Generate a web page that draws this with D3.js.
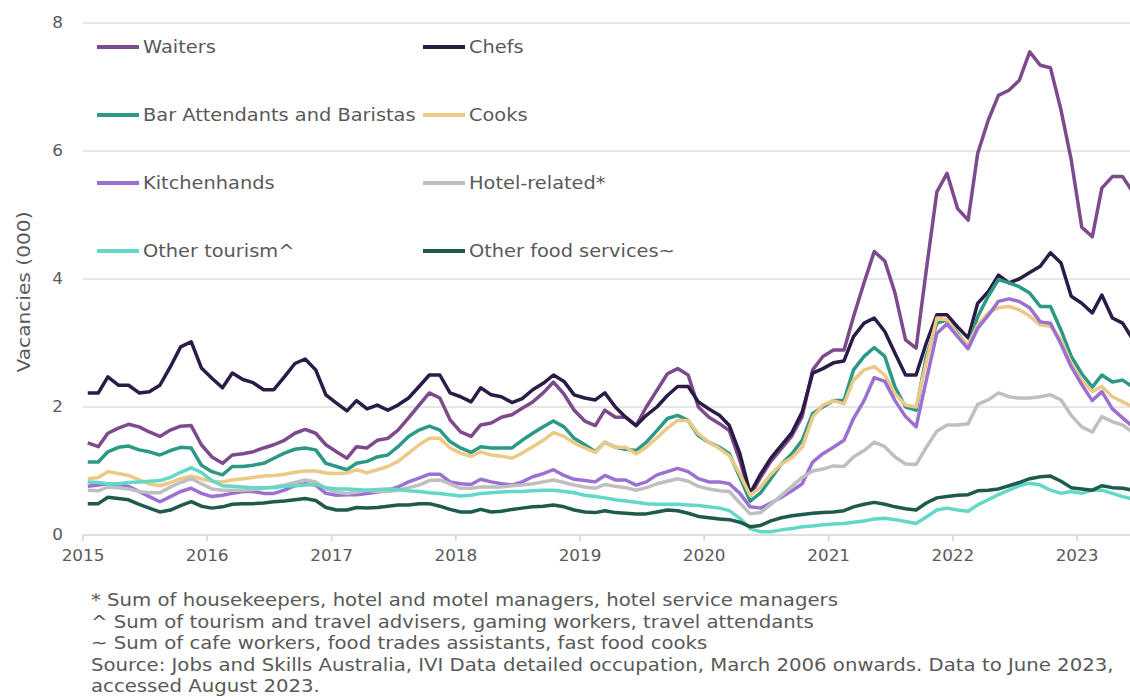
<!DOCTYPE html>
<html>
<head>
<meta charset="utf-8">
<script src="https://cdn.jsdelivr.net/npm/d3@7"></script>
<style>
  body { margin: 0; background: #fff; }
  svg text { font-family: "DejaVu Sans", Verdana, sans-serif; fill: #595959; }
</style>
</head>
<body>
<div id="chart"></div>
<script>
// monthly vacancies ('000), Jan 2015 to Jun 2023
const waiters = [
  1.44, 1.38, 1.59, 1.67, 1.73, 1.69, 1.61, 1.54, 1.64, 1.70, 1.71, 1.41,
  1.22, 1.12, 1.25, 1.27, 1.30, 1.36, 1.41, 1.48, 1.59, 1.65, 1.59, 1.41,
  1.30, 1.20, 1.38, 1.36, 1.48, 1.51, 1.64, 1.83, 2.03, 2.22, 2.14, 1.80,
  1.61, 1.54, 1.72, 1.75, 1.84, 1.88, 1.98, 2.08, 2.22, 2.39, 2.20, 1.95,
  1.78, 1.71, 1.95, 1.84, 1.84, 1.71, 2.00, 2.26, 2.52, 2.60, 2.50, 2.00,
  1.84, 1.74, 1.63, 1.16, 0.62, 0.90, 1.15, 1.35, 1.55, 1.85, 2.58, 2.79,
  2.89, 2.89, 3.41, 3.94, 4.43, 4.28, 3.78, 3.05, 2.92, 4.14, 5.36, 5.65,
  5.10, 4.92, 5.96, 6.48, 6.87, 6.95, 7.10, 7.55, 7.34, 7.30, 6.64, 5.86,
  4.81, 4.66, 5.42, 5.60, 5.60, 5.35
];
const chefs = [
  2.22, 2.22, 2.47, 2.34, 2.34, 2.22, 2.24, 2.34, 2.63, 2.94, 3.02, 2.61,
  2.45, 2.30, 2.53, 2.43, 2.38, 2.27, 2.27, 2.47, 2.68, 2.75, 2.58, 2.19,
  2.06, 1.94, 2.10, 1.97, 2.03, 1.95, 2.03, 2.14, 2.32, 2.50, 2.50, 2.22,
  2.16, 2.08, 2.30, 2.19, 2.16, 2.07, 2.13, 2.27, 2.37, 2.50, 2.40, 2.19,
  2.14, 2.11, 2.22, 2.00, 1.84, 1.71, 1.87, 2.00, 2.18, 2.32, 2.32, 2.08,
  1.97, 1.87, 1.71, 1.27, 0.65, 0.95, 1.20, 1.40, 1.60, 1.92, 2.53, 2.60,
  2.69, 2.72, 3.10, 3.31, 3.39, 3.18, 2.84, 2.50, 2.50, 3.00, 3.44, 3.44,
  3.25, 3.08, 3.62, 3.80, 4.06, 3.94, 4.00, 4.10, 4.20, 4.41, 4.25, 3.73,
  3.62, 3.47, 3.75, 3.39, 3.31, 3.05
];
const barAttendants = [
  1.14, 1.14, 1.30, 1.37, 1.39, 1.33, 1.30, 1.25, 1.32, 1.37, 1.36, 1.09,
  0.99, 0.94, 1.07, 1.07, 1.09, 1.12, 1.20, 1.28, 1.34, 1.36, 1.33, 1.12,
  1.07, 1.02, 1.12, 1.15, 1.22, 1.25, 1.38, 1.54, 1.64, 1.70, 1.64, 1.46,
  1.36, 1.29, 1.38, 1.36, 1.36, 1.36, 1.48, 1.59, 1.69, 1.78, 1.69, 1.51,
  1.41, 1.30, 1.45, 1.37, 1.34, 1.32, 1.45, 1.63, 1.82, 1.87, 1.79, 1.55,
  1.45, 1.37, 1.27, 0.90, 0.53, 0.66, 0.88, 1.11, 1.27, 1.48, 1.90, 2.00,
  2.10, 2.10, 2.58, 2.79, 2.93, 2.79, 2.31, 2.00, 1.95, 2.79, 3.31, 3.36,
  3.15, 2.94, 3.41, 3.73, 3.99, 3.94, 3.88, 3.78, 3.57, 3.57, 3.20, 2.79,
  2.52, 2.31, 2.50, 2.39, 2.42, 2.31
];
const cooks = [
  0.88, 0.90, 0.99, 0.96, 0.93, 0.86, 0.80, 0.77, 0.82, 0.88, 0.92, 0.88,
  0.84, 0.83, 0.86, 0.88, 0.90, 0.92, 0.93, 0.95, 0.98, 1.00, 1.00, 0.97,
  0.96, 0.97, 1.02, 0.97, 1.02, 1.07, 1.15, 1.28, 1.41, 1.51, 1.51, 1.36,
  1.28, 1.23, 1.30, 1.25, 1.23, 1.20, 1.28, 1.38, 1.48, 1.60, 1.54, 1.44,
  1.36, 1.29, 1.45, 1.37, 1.37, 1.27, 1.37, 1.52, 1.67, 1.79, 1.79, 1.58,
  1.45, 1.35, 1.24, 0.95, 0.62, 0.75, 0.95, 1.11, 1.21, 1.37, 1.84, 2.03,
  2.10, 2.05, 2.42, 2.58, 2.63, 2.50, 2.21, 2.03, 2.00, 2.70, 3.39, 3.36,
  3.13, 2.97, 3.28, 3.47, 3.55, 3.57, 3.52, 3.42, 3.28, 3.26, 3.05, 2.68,
  2.42, 2.24, 2.32, 2.16, 2.08, 2.00
];
const kitchenhands = [
  0.76, 0.78, 0.80, 0.79, 0.76, 0.68, 0.60, 0.52, 0.60, 0.68, 0.73, 0.65,
  0.60, 0.62, 0.65, 0.68, 0.68, 0.65, 0.65, 0.70, 0.77, 0.80, 0.78, 0.65,
  0.62, 0.63, 0.63, 0.65, 0.67, 0.70, 0.75, 0.83, 0.89, 0.95, 0.95, 0.83,
  0.80, 0.79, 0.87, 0.83, 0.80, 0.78, 0.83, 0.91, 0.96, 1.02, 0.93, 0.87,
  0.85, 0.83, 0.93, 0.86, 0.86, 0.78, 0.83, 0.94, 0.99, 1.04, 0.99, 0.88,
  0.83, 0.83, 0.80, 0.65, 0.44, 0.42, 0.50, 0.59, 0.69, 0.80, 1.14, 1.27,
  1.37, 1.48, 1.82, 2.10, 2.46, 2.40, 2.10, 1.85, 1.69, 2.42, 3.15, 3.30,
  3.10, 2.91, 3.23, 3.43, 3.65, 3.69, 3.65, 3.55, 3.33, 3.31, 2.98, 2.63,
  2.35, 2.10, 2.24, 1.97, 1.83, 1.69
];
const hotelRelated = [
  0.70, 0.69, 0.75, 0.74, 0.72, 0.68, 0.66, 0.66, 0.75, 0.82, 0.88, 0.80,
  0.72, 0.70, 0.70, 0.70, 0.71, 0.73, 0.75, 0.78, 0.82, 0.86, 0.83, 0.72,
  0.67, 0.65, 0.67, 0.70, 0.68, 0.68, 0.70, 0.74, 0.78, 0.85, 0.86, 0.80,
  0.73, 0.73, 0.75, 0.75, 0.75, 0.77, 0.78, 0.80, 0.83, 0.86, 0.82, 0.78,
  0.75, 0.73, 0.79, 0.76, 0.74, 0.70, 0.74, 0.80, 0.84, 0.88, 0.84, 0.76,
  0.72, 0.69, 0.68, 0.50, 0.33, 0.35, 0.48, 0.62, 0.76, 0.90, 1.00, 1.03,
  1.08, 1.07, 1.22, 1.32, 1.45, 1.38, 1.22, 1.11, 1.10, 1.37, 1.62, 1.72,
  1.72, 1.74, 2.04, 2.11, 2.22, 2.16, 2.14, 2.14, 2.16, 2.19, 2.11, 1.87,
  1.69, 1.61, 1.85, 1.77, 1.72, 1.60
];
const otherTourism = [
  0.83, 0.82, 0.80, 0.80, 0.82, 0.83, 0.84, 0.85, 0.90, 0.98, 1.05, 0.98,
  0.85, 0.77, 0.76, 0.75, 0.74, 0.74, 0.74, 0.76, 0.77, 0.78, 0.79, 0.74,
  0.72, 0.72, 0.71, 0.70, 0.71, 0.72, 0.71, 0.69, 0.68, 0.66, 0.65, 0.63,
  0.61, 0.62, 0.65, 0.66, 0.67, 0.68, 0.68, 0.69, 0.70, 0.70, 0.68, 0.66,
  0.62, 0.60, 0.58, 0.55, 0.53, 0.51, 0.49, 0.48, 0.48, 0.48, 0.47, 0.46,
  0.44, 0.42, 0.38, 0.26, 0.10, 0.05, 0.05, 0.08, 0.10, 0.13, 0.14, 0.16,
  0.17, 0.18, 0.20, 0.22, 0.25, 0.26, 0.24, 0.21, 0.18, 0.28, 0.39, 0.42,
  0.39, 0.37, 0.47, 0.55, 0.63, 0.70, 0.77, 0.81, 0.78, 0.70, 0.65, 0.68,
  0.65, 0.70, 0.70, 0.65, 0.60, 0.56
];
const otherFood = [
  0.49, 0.49, 0.59, 0.57, 0.55, 0.48, 0.42, 0.36, 0.39, 0.46, 0.52, 0.45,
  0.42, 0.44, 0.48, 0.49, 0.49, 0.50, 0.52, 0.53, 0.55, 0.57, 0.54, 0.43,
  0.39, 0.39, 0.43, 0.42, 0.43, 0.45, 0.47, 0.47, 0.49, 0.49, 0.45, 0.40,
  0.36, 0.36, 0.40, 0.36, 0.37, 0.40, 0.42, 0.44, 0.45, 0.47, 0.44, 0.39,
  0.36, 0.35, 0.38, 0.35, 0.34, 0.33, 0.33, 0.36, 0.39, 0.38, 0.34, 0.29,
  0.27, 0.25, 0.24, 0.20, 0.13, 0.15, 0.22, 0.27, 0.30, 0.32, 0.34, 0.35,
  0.36, 0.38, 0.44, 0.48, 0.51, 0.48, 0.44, 0.41, 0.39, 0.50, 0.58, 0.60,
  0.62, 0.63, 0.69, 0.70, 0.72, 0.77, 0.82, 0.88, 0.91, 0.92, 0.84, 0.74,
  0.72, 0.70, 0.77, 0.74, 0.73, 0.70
];

const seriesNames = ["Waiters", "Chefs", "Bar Attendants and Baristas", "Cooks",
                     "Kitchenhands", "Hotel-related*", "Other tourism^", "Other food services~"];
const seriesValues = [waiters, chefs, barAttendants, cooks, kitchenhands, hotelRelated, otherTourism, otherFood];
const seriesColors = ["#7d4a8d", "#2a1b47", "#2b9985", "#ecc985", "#9c70d2", "#bfbfbf", "#63d8c8", "#1e5b4d"];

const yTicks = [0, 2, 4, 6, 8];
const xTickYears = [2015, 2016, 2017, 2018, 2019, 2020, 2021, 2022, 2023];
const footnotes = [
  "* Sum of housekeepers, hotel and motel managers, hotel service managers",
  "^ Sum of tourism and travel advisers, gaming workers, travel attendants",
  "~ Sum of cafe workers, food trades assistants, fast food cooks",
  "Source: Jobs and Skills Australia, IVI Data detailed occupation, March 2006 onwards. Data to June 2023,",
  "accessed August 2023."
];

const width = 1130, height = 697;
const stretch = 1.12;   // the original text is slightly wider than it is tall

const dates = d3.range(waiters.length).map(i => new Date(2015, i, 15));

const x = d3.scaleTime()
    .domain([new Date(2015, 0, 1), new Date(2023, 0, 1)])
    .range([83, 1077]);
const y = d3.scaleLinear().domain([0, 8]).range([535, 23]);

const svg = d3.select("#chart").append("svg")
    .attr("width", width)
    .attr("height", height);

function placeText(sel, tx, ty) {
  return sel.attr("transform", `translate(${tx},${ty}) scale(${stretch},1)`);
}

// gridlines
svg.append("g").selectAll("line")
  .data(yTicks)
  .enter().append("line")
  .attr("x1", 83).attr("x2", width)
  .attr("y1", d => y(d)).attr("y2", d => y(d))
  .attr("stroke", d => d === 0 ? "#d4d4d4" : "#dedede")
  .attr("stroke-width", 1.5);

// y labels
svg.append("g").selectAll("text")
  .data(yTicks)
  .enter().append("text")
  .attr("text-anchor", "end")
  .attr("dy", "0.36em")
  .style("font-size", "15px")
  .text(d => d)
  .each(function (d) { placeText(d3.select(this), 63, y(d)); });

// x ticks and labels
const xt = svg.append("g").selectAll("g")
  .data(xTickYears)
  .enter().append("g");
xt.append("line")
  .attr("x1", d => x(new Date(d, 0, 1))).attr("x2", d => x(new Date(d, 0, 1)))
  .attr("y1", 535).attr("y2", 541)
  .attr("stroke", "#d4d4d4")
  .attr("stroke-width", 1.5);
xt.append("text")
  .attr("text-anchor", "middle")
  .style("font-size", "15px")
  .text(d => d)
  .each(function (d) { placeText(d3.select(this), x(new Date(d, 0, 1)), 561); });

// y title
svg.append("text")
  .attr("transform", `translate(30,292) rotate(-90) scale(${stretch},1)`)
  .attr("text-anchor", "middle")
  .style("font-size", "18px")
  .text("Vacancies (000)");

// lines
const line = d3.line()
  .x((d, i) => x(dates[i]))
  .y(d => y(d));

svg.append("g").selectAll("path")
  .data(seriesValues)
  .enter().append("path")
  .attr("d", d => line(d))
  .attr("fill", "none")
  .attr("stroke", (d, i) => seriesColors[i])
  .attr("stroke-width", 3.5)
  .attr("stroke-linejoin", "round");

// legend, two columns
const legend = svg.append("g").selectAll("g")
  .data(seriesNames)
  .enter().append("g")
  .attr("transform", (d, i) => `translate(${i % 2 === 0 ? 97 : 423},${47 + Math.floor(i / 2) * 68})`);
legend.append("line")
  .attr("x1", 0).attr("x2", 42)
  .attr("stroke", (d, i) => seriesColors[i])
  .attr("stroke-width", 4);
legend.append("text")
  .attr("dy", "0.36em")
  .style("font-size", "17.3px")
  .text(d => d)
  .each(function () { placeText(d3.select(this), 46, 0); });

// footnotes
svg.append("g").selectAll("text")
  .data(footnotes)
  .enter().append("text")
  .style("font-size", "17.6px")
  .text(d => d)
  .each(function (d, i) { placeText(d3.select(this), 91, 606 + i * 21.5); });
</script>
</body>
</html>
